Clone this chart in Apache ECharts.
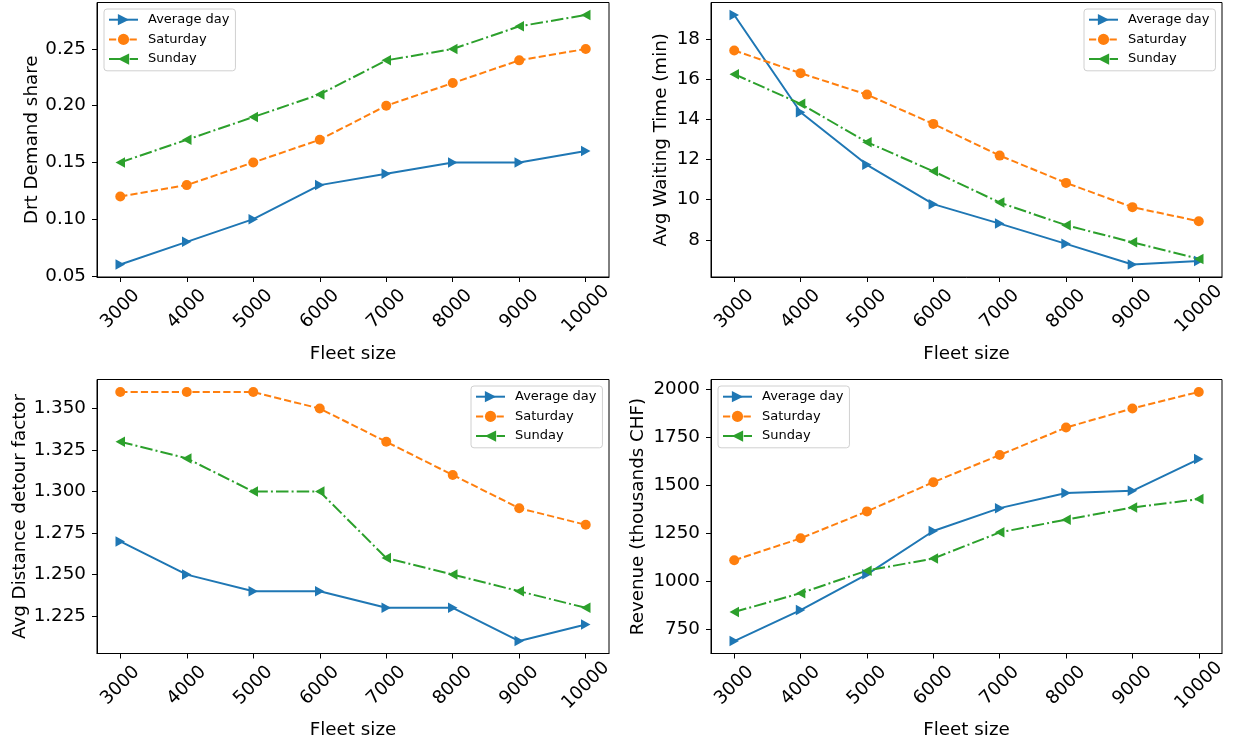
<!DOCTYPE html>
<html>
<head>
<meta charset="utf-8">
<script src="https://cdn.jsdelivr.net/npm/echarts@6/dist/echarts.min.js"></script>
<style>
html,body{margin:0;padding:0;background:#fff;}
#chart{width:1233px;height:747px;}
</style>
</head>
<body>
<div id="chart"></div>
<script>
// ---- data ----
const fleetSizes = [3000, 4000, 5000, 6000, 7000, 8000, 9000, 10000];
const seriesNames = ['Average day', 'Saturday', 'Sunday'];

const demandAvg = [0.06, 0.08, 0.10, 0.13, 0.14, 0.15, 0.15, 0.16];
const demandSat = [0.12, 0.13, 0.15, 0.17, 0.20, 0.22, 0.24, 0.25];
const demandSun = [0.15, 0.17, 0.19, 0.21, 0.24, 0.25, 0.27, 0.28];

const waitAvg = [19.21, 14.36, 11.74, 9.78, 8.81, 7.80, 6.77, 6.94];
const waitSat = [17.44, 16.31, 15.24, 13.78, 12.20, 10.84, 9.63, 8.93];
const waitSun = [16.26, 14.78, 12.87, 11.42, 9.86, 8.73, 7.88, 7.05];

const detourAvg = [1.27, 1.25, 1.24, 1.24, 1.23, 1.23, 1.21, 1.22];
const detourSat = [1.36, 1.36, 1.36, 1.35, 1.33, 1.31, 1.29, 1.28];
const detourSun = [1.33, 1.32, 1.30, 1.30, 1.26, 1.25, 1.24, 1.23];

const revenueAvg = [691, 852, 1038, 1263, 1382, 1461, 1472, 1637];
const revenueSat = [1111, 1225, 1365, 1517, 1658, 1801, 1900, 1986];
const revenueSun = [842, 940, 1057, 1120, 1256, 1322, 1385, 1429];

const xTicks = [3000, 4000, 5000, 6000, 7000, 8000, 9000, 10000];
const yTicksDemand = [0.05, 0.10, 0.15, 0.20, 0.25];
const yTicksWait = [8, 10, 12, 14, 16, 18];
const yTicksDetour = [1.225, 1.250, 1.275, 1.300, 1.325, 1.350];
const yTicksRevenue = [750, 1000, 1250, 1500, 1750, 2000];

const yNames = ['Drt Demand share', 'Avg Waiting Time (min)', 'Avg Distance detour factor', 'Revenue (thousands CHF)'];
const xName = 'Fleet size';

// ---- style ----
const FONT = 'DejaVu Sans';
const FS = 18.3;
const colors = ['#1f77b4', '#ff7f0e', '#2ca02c'];
const lineTypes = ['solid', [7.2, 3.1], [12.5, 3.1, 2, 3.1]];
const symbols = ['path://M0,0 L10,5 L0,10 Z', 'circle', 'path://M10,0 L0,5 L10,10 Z'];

function range(arrs) {
  let lo = Infinity, hi = -Infinity;
  arrs.forEach(a => a.forEach(v => { lo = Math.min(lo, v); hi = Math.max(hi, v); }));
  const m = (hi - lo) * 0.05;
  return [lo - m, hi + m];
}
const xr = range([fleetSizes]);

const panels = [
  {data: [demandAvg, demandSat, demandSun], ticks: yTicksDemand, dec: 2, grid: {left: 97, top: 2.5, width: 512, height: 274.5}, nameGap: 56, legend: {left: 104, top: 9}},
  {data: [waitAvg, waitSat, waitSun], ticks: yTicksWait, dec: 0, grid: {left: 711, top: 2.5, width: 511, height: 274.5}, nameGap: 41, legend: {left: 1084, top: 9}},
  {data: [detourAvg, detourSat, detourSun], ticks: yTicksDetour, dec: 3, grid: {left: 97, top: 379.5, width: 512, height: 274}, nameGap: 68, legend: {left: 471, top: 386}},
  {data: [revenueAvg, revenueSat, revenueSun], ticks: yTicksRevenue, dec: 0, grid: {left: 711, top: 379.5, width: 511, height: 274}, nameGap: 64, legend: {left: 718, top: 386}}
];

const grids = [], xAxes = [], yAxes = [], series = [], legends = [];
panels.forEach((p, i) => {
  grids.push(Object.assign({show: true, borderColor: '#000', borderWidth: 1, backgroundColor: 'transparent'}, p.grid));
  xAxes.push({
    type: 'value', gridIndex: i, min: xr[0], max: xr[1],
    name: xName, nameLocation: 'middle', nameGap: 68,
    nameTextStyle: {fontFamily: FONT, fontSize: FS, color: '#000'},
    axisLine: {show: true, lineStyle: {color: '#000', width: 1}},
    axisTick: {show: true, length: 5, lineStyle: {color: '#000', width: 1}, customValues: xTicks},
    axisLabel: {show: true, customValues: xTicks, rotate: 45, align: 'center', verticalAlign: 'middle', margin: 32,
      fontFamily: FONT, fontSize: FS, color: '#000', formatter: v => String(v)},
    splitLine: {show: false}
  });
  const yr = range(p.data);
  yAxes.push({
    type: 'value', gridIndex: i, min: yr[0], max: yr[1],
    name: yNames[i], nameLocation: 'middle', nameGap: p.nameGap,
    nameTextStyle: {fontFamily: FONT, fontSize: FS, color: '#000'},
    axisLine: {show: true, lineStyle: {color: '#000', width: 1}},
    axisTick: {show: true, length: 5, lineStyle: {color: '#000', width: 1}, customValues: p.ticks},
    axisLabel: {show: true, customValues: p.ticks, margin: 11, fontFamily: FONT, fontSize: FS, color: '#000',
      formatter: v => Number(v).toFixed(p.dec)},
    splitLine: {show: false}
  });
  p.data.forEach((arr, k) => {
    series.push({
      name: seriesNames[k], type: 'line', xAxisIndex: i, yAxisIndex: i,
      data: fleetSizes.map((x, j) => [x, arr[j]]),
      symbol: symbols[k], symbolSize: k === 1 ? 10 : [9.5, 10.5], showSymbol: true,
      lineStyle: {color: colors[k], width: 2, type: lineTypes[k]},
      itemStyle: {color: colors[k], borderWidth: 0},
      emphasis: {disabled: true}, silent: true
    });
  });
  legends.push({
    orient: 'vertical', left: p.legend.left, top: p.legend.top,
    data: seriesNames.slice(),
    itemWidth: 29, itemHeight: 14, itemGap: 5.7,
    padding: [3.7, 6, 4.7, 4],
    backgroundColor: 'rgba(255,255,255,0.8)', borderColor: '#d0d0d0', borderWidth: 1, borderRadius: 3,
    textStyle: {fontFamily: FONT, fontSize: 13, color: '#000', lineHeight: 14, padding: [0, 0, 0, 5]},
    selectedMode: false
  });
});

const chart = echarts.init(document.getElementById('chart'), null, {renderer: 'canvas'});
chart.setOption({
  animation: false,
  backgroundColor: '#fff',
  grid: grids, xAxis: xAxes, yAxis: yAxes, series: series, legend: legends
});
</script>
</body>
</html>
